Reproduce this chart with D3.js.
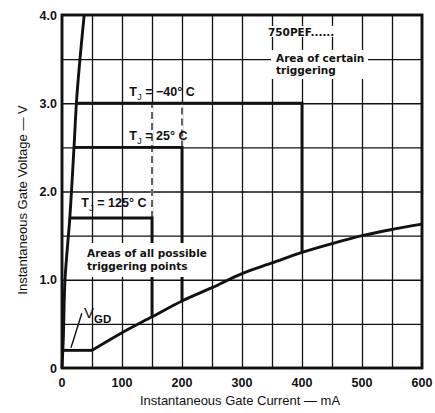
<!DOCTYPE html>
<html>
<head>
<meta charset="utf-8">
<script src="https://cdn.jsdelivr.net/npm/d3@7/dist/d3.min.js"></script>
<style>
  body { margin: 0; background: #fff; }
  svg { display: block; }
</style>
</head>
<body>
<svg id="chart" width="435" height="413"></svg>
<script>
// Axis ticks
const xTicks = [0, 100, 200, 300, 400, 500, 600];
const xTickLabels = ["0", "100", "200", "300", "400", "500", "600"];
const yTicks = [0, 1, 2, 3, 4];
const yTickLabels = ["0", "1.0", "2.0", "3.0", "4.0"];
const gridI = [50, 100, 150, 200, 250, 300, 350, 400, 450, 500, 550];
const gridV = [0.5, 1.0, 1.5, 2.0, 2.5, 3.0, 3.5];

// Upper limit of the gate characteristic (steep line from origin)
const upperI = [0, 2, 5, 13, 20, 24, 37];
const upperV = [0, 0.3, 1.0, 1.7, 2.5, 3.0, 4.0];

// Gate non-trigger voltage floor (V_GD)
const gdI = [0, 50];
const gdV = [0.2, 0.2];

// Lower limit of the gate characteristic
const lowerI = [50, 100, 150, 200, 250, 300, 350, 400, 450, 500, 550, 600];
const lowerV = [0.2, 0.4, 0.58, 0.76, 0.91, 1.07, 1.19, 1.31, 1.41, 1.5, 1.57, 1.63];

// Minimum trigger levels per junction temperature
const tempNames = ["\u221240\u00b0 C", "25\u00b0 C", "125\u00b0 C"];
const tempV = [3.0, 2.5, 1.7];
const tempIMax = [400, 200, 150];

// Grid segments drawn dashed (current, from V, to V)
const dashI = [150, 200];
const dashFrom = [1.7, 2.5];
const dashTo = [3.0, 3.0];

const svg = d3.select("#chart");
const ink = "#111";
const x = d3.scaleLinear().domain([0, 600]).range([62, 422]);
const y = d3.scaleLinear().domain([0, 4]).range([368, 15]);

const lookup = (xs, ys, v) => ys[xs.indexOf(v)];

// grid, drawn through the axis generators with full-length ticks
const gridX = svg.append("g").attr("transform", `translate(0,${y(0)})`)
  .call(d3.axisBottom(x).tickValues(gridI).tickSize(-(y(0) - y(4))).tickFormat(""));
const gridY = svg.append("g").attr("transform", `translate(${x(0)},0)`)
  .call(d3.axisLeft(y).tickValues(gridV).tickSize(-(x(600) - x(0))).tickFormat(""));
[gridX, gridY].forEach(g => {
  g.select(".domain").remove();
  g.selectAll(".tick line").attr("stroke", ink).attr("stroke-width", 1.3);
});

// dashed grid portions
const dashes = svg.append("g");
dashI.forEach((d, i) => {
  dashes.append("line")
    .attr("x1", x(d)).attr("x2", x(d))
    .attr("y1", y(dashFrom[i])).attr("y2", y(dashTo[i]))
    .attr("stroke", "#fff").attr("stroke-width", 2.4);
  dashes.append("line")
    .attr("x1", x(d)).attr("x2", x(d))
    .attr("y1", y(dashFrom[i])).attr("y2", y(dashTo[i]))
    .attr("stroke", ink).attr("stroke-width", 1.3)
    .attr("stroke-dasharray", "7,4");
});

const thick = 2.9;
const curves = svg.append("g").attr("fill", "none").attr("stroke", ink)
  .attr("stroke-width", thick).attr("stroke-linejoin", "round");

// steep upper limit
curves.append("path")
  .attr("d", d3.line().x(d => x(d[0])).y(d => y(d[1])).curve(d3.curveMonotoneY)(upperI.map((d, i) => [d, upperV[i]])));
// V_GD floor
curves.append("path")
  .attr("d", d3.line().x(d => x(d[0])).y(d => y(d[1]))(gdI.map((d, i) => [d, gdV[i]])));
// lower limit
curves.append("path")
  .attr("d", d3.line().x(d => x(d[0])).y(d => y(d[1])).curve(d3.curveMonotoneX)(lowerI.map((d, i) => [d, lowerV[i]])));

// temperature brackets: horizontal at trigger voltage, vertical down to lower limit
tempV.forEach((v, i) => {
  const i0 = lookup(upperV, upperI, v);
  const iMax = tempIMax[i];
  const vLow = lookup(lowerI, lowerV, iMax);
  curves.append("path")
    .attr("stroke-linejoin", "miter")
    .attr("d", d3.line()([[x(i0), y(v)], [x(iMax), y(v)], [x(iMax), y(vLow)]]));
});

// frame
svg.append("rect")
  .attr("x", x(0)).attr("y", y(4))
  .attr("width", x(600) - x(0)).attr("height", y(0) - y(4))
  .attr("fill", "none").attr("stroke", ink).attr("stroke-width", 2.9);

// V_GD pointer
svg.append("line")
  .attr("x1", x(15)).attr("y1", y(0.23))
  .attr("x2", x(33)).attr("y2", y(0.62))
  .attr("stroke", ink).attr("stroke-width", 1.4);

// annotation boxes masking the grid
const boxes = svg.append("g").attr("fill", "#fff");
boxes.append("rect").attr("x", 84).attr("y", 243).attr("width", 126).attr("height", 34);
boxes.append("rect").attr("x", 265).attr("y", 26).attr("width", 82).attr("height", 11);
boxes.append("rect").attr("x", 271).attr("y", 50).attr("width", 97).attr("height", 29);

const noteFont = "'DejaVu Sans', sans-serif";
const notes = svg.append("g").attr("font-family", noteFont).attr("font-weight", "bold")
  .attr("font-size", 10.5).attr("fill", ink);
notes.append("text").attr("x", 87).attr("y", 257).text("Areas of all possible");
notes.append("text").attr("x", 87).attr("y", 270).text("triggering points");
notes.append("text").attr("x", 268).attr("y", 35.5).text("750PEF......");
notes.append("text").attr("x", 276).attr("y", 61.5).text("Area of certain");
notes.append("text").attr("x", 276).attr("y", 74).text("triggering");

// temperature labels
const tempLabelI = [112, 112, 32];
const tempLabelRise = [7, 7, 10.5];
const tl = svg.append("g").attr("font-family", "'Liberation Sans', Arial, sans-serif")
  .attr("font-size", 12.5).attr("fill", ink).attr("font-weight", "bold");
tempNames.forEach((name, i) => {
  const t = tl.append("text").attr("x", x(tempLabelI[i])).attr("y", y(tempV[i]) - tempLabelRise[i]);
  t.append("tspan").text("T");
  t.append("tspan").attr("font-size", 9).attr("font-weight", "normal").attr("dx", 0.5).attr("dy", 3.5).text("J");
  t.append("tspan").attr("dy", -3.5).text(" = " + name);
});

// V_GD label
const vg = svg.append("text").attr("x", 84).attr("y", 318)
  .attr("font-family", "'Liberation Sans', Arial, sans-serif").attr("fill", ink);
vg.append("tspan").attr("font-size", 15).text("V");
vg.append("tspan").attr("font-size", 11.5).attr("dy", 4.5).attr("font-weight", "bold").text("GD");

// tick labels
const tickFont = "'Liberation Sans', Arial, sans-serif";
svg.append("g").attr("font-family", tickFont).attr("font-weight", "bold")
  .attr("font-size", 12.5).attr("fill", ink).attr("text-anchor", "middle")
  .selectAll("text").data(xTicks).join("text")
  .attr("x", d => x(d)).attr("y", 387).text((d, i) => xTickLabels[i]);
svg.append("g").attr("font-family", tickFont).attr("font-weight", "bold")
  .attr("font-size", 12.5).attr("fill", ink).attr("text-anchor", "end")
  .selectAll("text").data(yTicks).join("text")
  .attr("x", 57).attr("y", d => y(d) + 4.5).text((d, i) => yTickLabels[i]);

// axis titles
svg.append("text").attr("x", 240).attr("y", 405).attr("text-anchor", "middle")
  .attr("font-family", tickFont).attr("font-size", 13).attr("fill", ink)
  .text("Instantaneous Gate Current \u2014 mA");
svg.append("text").attr("transform", "translate(27,200) rotate(-90)").attr("text-anchor", "middle")
  .attr("font-family", tickFont).attr("font-size", 13).attr("fill", ink)
  .text("Instantaneous Gate Voltage \u2014 V");
</script>
</body>
</html>
